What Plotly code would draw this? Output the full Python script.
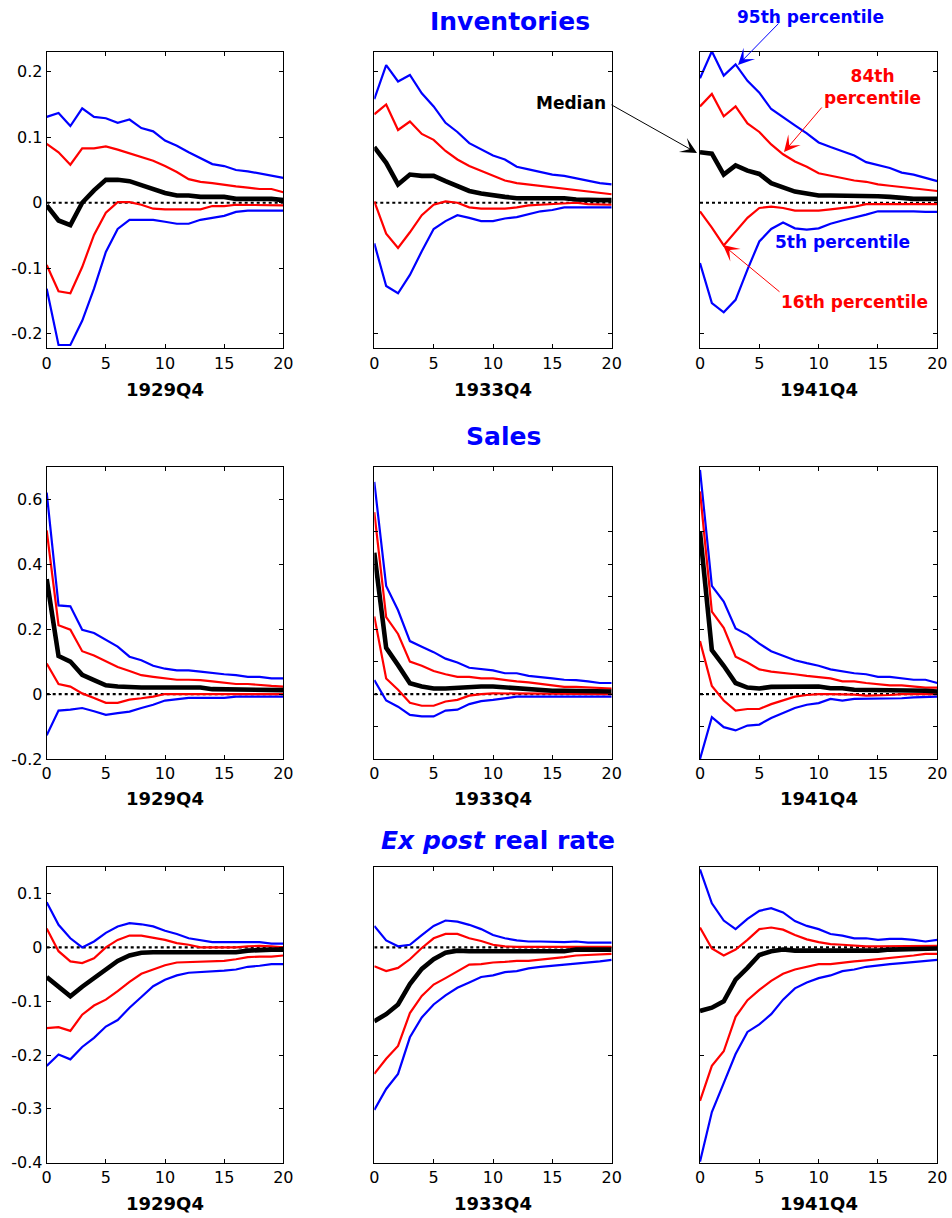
import plotly.graph_objects as go

W, H = 952, 1218

horizon = list(range(21))
zero_line = [0.0] * 21

episodes = ["1929Q4", "1933Q4", "1941Q4"]

# ---------------- Inventories ----------------
inv_1929_p95 = [0.131, 0.137, 0.117, 0.144, 0.131, 0.129, 0.122, 0.127, 0.114, 0.109, 0.095, 0.087, 0.077, 0.068, 0.059, 0.056, 0.050, 0.048, 0.045, 0.041, 0.038]
inv_1929_p84 = [0.090, 0.077, 0.058, 0.083, 0.083, 0.086, 0.081, 0.075, 0.070, 0.064, 0.056, 0.047, 0.036, 0.032, 0.030, 0.027, 0.025, 0.023, 0.021, 0.021, 0.016]
inv_1929_med = [-0.004, -0.027, -0.034, 0.000, 0.019, 0.035, 0.035, 0.033, 0.027, 0.021, 0.015, 0.011, 0.011, 0.009, 0.009, 0.009, 0.006, 0.006, 0.006, 0.006, 0.004]
inv_1929_p16 = [-0.095, -0.135, -0.138, -0.098, -0.049, -0.015, 0.001, 0.001, -0.003, -0.009, -0.010, -0.010, -0.010, -0.010, -0.005, -0.005, -0.003, -0.003, -0.003, -0.003, -0.004]
inv_1929_p05 = [-0.131, -0.217, -0.217, -0.180, -0.131, -0.075, -0.040, -0.026, -0.026, -0.026, -0.029, -0.032, -0.032, -0.026, -0.023, -0.020, -0.014, -0.012, -0.012, -0.012, -0.012]

inv_1933_p95 = [0.158, 0.210, 0.185, 0.195, 0.167, 0.147, 0.122, 0.108, 0.091, 0.081, 0.072, 0.066, 0.055, 0.051, 0.047, 0.043, 0.041, 0.037, 0.033, 0.030, 0.028]
inv_1933_p84 = [0.135, 0.150, 0.111, 0.124, 0.105, 0.096, 0.079, 0.066, 0.056, 0.049, 0.041, 0.034, 0.030, 0.028, 0.026, 0.023, 0.021, 0.019, 0.017, 0.015, 0.013]
inv_1933_med = [0.085, 0.061, 0.028, 0.043, 0.041, 0.041, 0.033, 0.026, 0.018, 0.014, 0.011, 0.009, 0.007, 0.007, 0.007, 0.007, 0.007, 0.005, 0.004, 0.004, 0.004]
inv_1933_p16 = [0.002, -0.047, -0.069, -0.045, -0.019, -0.003, 0.002, 0.000, -0.007, -0.009, -0.009, -0.009, -0.007, -0.004, -0.003, -0.002, -0.002, 0.000, -0.002, -0.002, -0.003]
inv_1933_p05 = [-0.062, -0.127, -0.138, -0.110, -0.074, -0.040, -0.028, -0.019, -0.023, -0.028, -0.028, -0.024, -0.022, -0.017, -0.013, -0.011, -0.007, -0.007, -0.007, -0.007, -0.007]

inv_1941_p95 = [0.190, 0.231, 0.194, 0.211, 0.186, 0.168, 0.143, 0.130, 0.118, 0.106, 0.092, 0.085, 0.079, 0.072, 0.062, 0.057, 0.053, 0.046, 0.043, 0.038, 0.033]
inv_1941_p84 = [0.147, 0.166, 0.132, 0.147, 0.121, 0.108, 0.089, 0.074, 0.063, 0.055, 0.045, 0.041, 0.038, 0.034, 0.032, 0.028, 0.026, 0.024, 0.022, 0.020, 0.018]
inv_1941_med = [0.077, 0.075, 0.043, 0.057, 0.049, 0.044, 0.030, 0.023, 0.017, 0.014, 0.011, 0.011, 0.011, 0.010, 0.010, 0.010, 0.009, 0.007, 0.006, 0.006, 0.006]
inv_1941_p16 = [-0.013, -0.038, -0.065, -0.044, -0.023, -0.008, -0.006, -0.008, -0.012, -0.012, -0.012, -0.010, -0.008, -0.006, -0.002, -0.002, -0.002, -0.002, -0.002, -0.002, -0.002]
inv_1941_p05 = [-0.092, -0.153, -0.167, -0.148, -0.102, -0.059, -0.040, -0.030, -0.039, -0.041, -0.039, -0.032, -0.027, -0.023, -0.018, -0.013, -0.013, -0.012, -0.013, -0.014, -0.014]

# ---------------- Sales ----------------
sal_1929_p95 = [0.620, 0.273, 0.270, 0.198, 0.188, 0.168, 0.146, 0.115, 0.104, 0.087, 0.078, 0.073, 0.073, 0.069, 0.064, 0.061, 0.058, 0.053, 0.053, 0.048, 0.048]
sal_1929_p84 = [0.504, 0.212, 0.198, 0.132, 0.119, 0.100, 0.083, 0.071, 0.058, 0.053, 0.049, 0.044, 0.044, 0.043, 0.039, 0.036, 0.031, 0.031, 0.027, 0.025, 0.023]
sal_1929_med = [0.354, 0.117, 0.100, 0.059, 0.043, 0.027, 0.023, 0.020, 0.020, 0.020, 0.020, 0.020, 0.020, 0.020, 0.015, 0.015, 0.015, 0.013, 0.012, 0.012, 0.012]
sal_1929_p16 = [0.094, 0.031, 0.023, 0.002, -0.012, -0.027, -0.027, -0.017, -0.013, -0.008, 0.000, 0.000, 0.000, 0.000, 0.000, 0.000, 0.000, 0.000, 0.000, 0.000, 0.000]
sal_1929_p05 = [-0.127, -0.051, -0.048, -0.043, -0.053, -0.064, -0.059, -0.054, -0.043, -0.033, -0.020, -0.015, -0.012, -0.012, -0.012, -0.012, -0.008, -0.008, -0.008, -0.008, -0.008]

sal_1933_p95 = [0.653, 0.333, 0.258, 0.163, 0.146, 0.129, 0.109, 0.097, 0.081, 0.076, 0.073, 0.064, 0.064, 0.056, 0.051, 0.048, 0.044, 0.043, 0.039, 0.034, 0.034]
sal_1933_p84 = [0.560, 0.237, 0.185, 0.100, 0.087, 0.071, 0.061, 0.053, 0.053, 0.048, 0.048, 0.043, 0.039, 0.036, 0.031, 0.025, 0.022, 0.022, 0.020, 0.017, 0.017]
sal_1933_med = [0.435, 0.142, 0.089, 0.033, 0.023, 0.017, 0.017, 0.020, 0.023, 0.023, 0.023, 0.020, 0.018, 0.013, 0.012, 0.010, 0.010, 0.010, 0.010, 0.008, 0.008]
sal_1933_p16 = [0.239, 0.048, 0.013, -0.027, -0.036, -0.036, -0.023, -0.018, -0.005, 0.000, 0.002, 0.002, 0.000, 0.000, 0.000, 0.000, 0.000, 0.000, 0.000, 0.000, 0.000]
sal_1933_p05 = [0.043, -0.020, -0.039, -0.064, -0.069, -0.069, -0.051, -0.048, -0.031, -0.022, -0.018, -0.013, -0.008, -0.008, -0.008, -0.008, -0.008, -0.008, -0.008, -0.008, -0.008]

sal_1941_p95 = [0.690, 0.333, 0.285, 0.202, 0.183, 0.155, 0.132, 0.117, 0.104, 0.095, 0.087, 0.076, 0.069, 0.064, 0.061, 0.053, 0.053, 0.049, 0.044, 0.044, 0.034]
sal_1941_p84 = [0.624, 0.254, 0.204, 0.115, 0.097, 0.076, 0.069, 0.066, 0.061, 0.056, 0.051, 0.048, 0.039, 0.039, 0.034, 0.031, 0.027, 0.027, 0.023, 0.020, 0.020]
sal_1941_med = [0.499, 0.135, 0.087, 0.034, 0.020, 0.017, 0.022, 0.022, 0.025, 0.025, 0.023, 0.018, 0.018, 0.013, 0.013, 0.010, 0.010, 0.012, 0.012, 0.010, 0.008]
sal_1941_p16 = [0.163, 0.025, -0.020, -0.051, -0.046, -0.046, -0.031, -0.020, -0.008, -0.003, 0.000, 0.000, 0.000, -0.002, -0.005, -0.005, -0.003, 0.000, 0.000, 0.000, 0.000]
sal_1941_p05 = [-0.200, -0.071, -0.102, -0.112, -0.097, -0.094, -0.074, -0.058, -0.043, -0.033, -0.028, -0.015, -0.020, -0.015, -0.015, -0.015, -0.015, -0.013, -0.010, -0.010, -0.008]

# ---------------- Ex post real rate ----------------
rr_1929_p95 = [0.084, 0.042, 0.017, 0.000, 0.011, 0.027, 0.039, 0.045, 0.043, 0.039, 0.031, 0.025, 0.017, 0.014, 0.010, 0.010, 0.010, 0.010, 0.010, 0.007, 0.007]
rr_1929_p84 = [0.035, -0.007, -0.026, -0.029, -0.020, 0.000, 0.014, 0.022, 0.022, 0.018, 0.014, 0.008, 0.005, 0.000, 0.000, 0.000, 0.000, 0.002, 0.003, 0.002, 0.000]
rr_1929_med = [-0.055, -0.072, -0.091, -0.073, -0.057, -0.040, -0.025, -0.015, -0.010, -0.009, -0.009, -0.010, -0.010, -0.010, -0.010, -0.010, -0.009, -0.006, -0.004, -0.004, -0.004]
rr_1929_p16 = [-0.150, -0.148, -0.155, -0.125, -0.108, -0.097, -0.081, -0.064, -0.049, -0.041, -0.033, -0.028, -0.027, -0.027, -0.025, -0.025, -0.022, -0.018, -0.017, -0.017, -0.015]
rr_1929_p05 = [-0.220, -0.199, -0.208, -0.185, -0.168, -0.147, -0.135, -0.112, -0.092, -0.072, -0.060, -0.052, -0.047, -0.046, -0.044, -0.043, -0.041, -0.036, -0.034, -0.031, -0.031]

rr_1933_p95 = [0.040, 0.013, 0.002, 0.005, 0.023, 0.040, 0.050, 0.048, 0.042, 0.034, 0.023, 0.017, 0.013, 0.011, 0.011, 0.010, 0.010, 0.011, 0.009, 0.009, 0.009]
rr_1933_p84 = [-0.035, -0.044, -0.038, -0.022, -0.001, 0.017, 0.025, 0.025, 0.017, 0.012, 0.005, 0.002, 0.001, 0.001, 0.001, 0.001, 0.001, 0.001, 0.001, 0.001, 0.001]
rr_1933_med = [-0.137, -0.124, -0.106, -0.068, -0.040, -0.022, -0.010, -0.006, -0.007, -0.007, -0.009, -0.009, -0.009, -0.009, -0.009, -0.007, -0.007, -0.004, -0.004, -0.004, -0.004]
rr_1933_p16 = [-0.235, -0.207, -0.183, -0.122, -0.090, -0.069, -0.057, -0.044, -0.032, -0.031, -0.028, -0.027, -0.025, -0.025, -0.023, -0.020, -0.018, -0.015, -0.014, -0.012, -0.012]
rr_1933_p05 = [-0.302, -0.263, -0.235, -0.167, -0.130, -0.106, -0.089, -0.075, -0.065, -0.055, -0.052, -0.046, -0.044, -0.039, -0.036, -0.034, -0.032, -0.031, -0.028, -0.026, -0.023]

rr_1941_p95 = [0.145, 0.082, 0.050, 0.034, 0.053, 0.068, 0.073, 0.065, 0.049, 0.040, 0.034, 0.025, 0.022, 0.017, 0.017, 0.014, 0.016, 0.016, 0.014, 0.011, 0.014]
rr_1941_p84 = [0.037, -0.002, -0.015, -0.004, 0.014, 0.034, 0.037, 0.033, 0.023, 0.015, 0.010, 0.006, 0.005, 0.003, 0.002, 0.002, 0.002, 0.002, 0.002, 0.002, 0.003]
rr_1941_med = [-0.118, -0.112, -0.100, -0.060, -0.038, -0.014, -0.007, -0.004, -0.006, -0.006, -0.007, -0.007, -0.007, -0.007, -0.006, -0.006, -0.004, -0.003, -0.002, -0.002, -0.002]
rr_1941_p16 = [-0.285, -0.220, -0.193, -0.129, -0.098, -0.079, -0.062, -0.049, -0.041, -0.036, -0.031, -0.031, -0.028, -0.026, -0.024, -0.022, -0.020, -0.017, -0.015, -0.012, -0.012]
rr_1941_p05 = [-0.398, -0.306, -0.252, -0.198, -0.157, -0.143, -0.124, -0.097, -0.076, -0.065, -0.057, -0.052, -0.044, -0.041, -0.036, -0.033, -0.031, -0.029, -0.027, -0.026, -0.023]

panel_data = [
    [(inv_1929_p95, inv_1929_p84, inv_1929_med, inv_1929_p16, inv_1929_p05),
     (inv_1933_p95, inv_1933_p84, inv_1933_med, inv_1933_p16, inv_1933_p05),
     (inv_1941_p95, inv_1941_p84, inv_1941_med, inv_1941_p16, inv_1941_p05)],
    [(sal_1929_p95, sal_1929_p84, sal_1929_med, sal_1929_p16, sal_1929_p05),
     (sal_1933_p95, sal_1933_p84, sal_1933_med, sal_1933_p16, sal_1933_p05),
     (sal_1941_p95, sal_1941_p84, sal_1941_med, sal_1941_p16, sal_1941_p05)],
    [(rr_1929_p95, rr_1929_p84, rr_1929_med, rr_1929_p16, rr_1929_p05),
     (rr_1933_p95, rr_1933_p84, rr_1933_med, rr_1933_p16, rr_1933_p05),
     (rr_1941_p95, rr_1941_p84, rr_1941_med, rr_1941_p16, rr_1941_p05)],
]

# axis settings per row
y_ranges = [[-0.222, 0.23], [-0.2, 0.7], [-0.4, 0.15]]
y_ticks_first = [[-0.2, -0.1, 0, 0.1, 0.2],
                 [-0.2, 0, 0.2, 0.4, 0.6],
                 [-0.4, -0.3, -0.2, -0.1, 0, 0.1]]
y_ticktext_first = [["-0.2", "-0.1", "0", "0.1", "0.2"],
                    ["-0.2", "0", "0.2", "0.4", "0.6"],
                    ["-0.4", "-0.3", "-0.2", "-0.1", "0", "0.1"]]
y_ticks_other = [[-0.2, 0.2],
                 [-0.1, 0, 0.1, 0.2, 0.3, 0.4, 0.5],
                 [-0.2]]
x_ticks = [0, 5, 10, 15, 20]

# pixel layout of panel frames (page coordinates)
col_px = [(46.7, 283.3), (374.3, 611.7), (700.0, 937.3)]
row_px = [(52.0, 348.3), (466.7, 759.0), (866.7, 1162.7)]
xlabel_y = [390, 798, 1203]
title_pos = [(510, 22, "Inventories"), (503, 437, "Sales"),
             (498, 840, "<i>Ex post</i> real rate")]

BLUE = "#0000FF"
RED = "#FF0000"
FONT = "DejaVu Sans"

def px(x):
    return x / W

def py(y):
    return 1 - y / H

fig = go.Figure()
layout_axes = {}
annotations = []

for r in range(3):
    for c in range(3):
        k = r * 3 + c + 1
        xa = "x" if k == 1 else f"x{k}"
        ya = "y" if k == 1 else f"y{k}"
        p95, p84, med, p16, p05 = panel_data[r][c]
        fig.add_trace(go.Scatter(x=horizon, y=zero_line, mode="lines",
                                 line=dict(color="black", width=2.2, dash="dot"),
                                 xaxis=xa, yaxis=ya, showlegend=False, hoverinfo="skip"))
        for series, colr, wd in [(p95, BLUE, 2.2), (p05, BLUE, 2.2),
                                 (p84, RED, 2.2), (p16, RED, 2.2),
                                 (med, "black", 4.6)]:
            fig.add_trace(go.Scatter(x=horizon, y=series, mode="lines",
                                     line=dict(color=colr, width=wd),
                                     xaxis=xa, yaxis=ya, showlegend=False))
        x0, x1 = col_px[c]
        y0, y1 = row_px[r]
        common = dict(showline=True, linecolor="black", linewidth=1, mirror="ticks",
                      ticks="inside", ticklen=4, tickcolor="black", tickwidth=1,
                      showgrid=False, zeroline=False, automargin=False,
                      ticklabeloverflow="allow",
                      tickfont=dict(family=FONT, size=16, color="black"))
        xkey = "xaxis" if k == 1 else f"xaxis{k}"
        ykey = "yaxis" if k == 1 else f"yaxis{k}"
        layout_axes[xkey] = dict(domain=[px(x0), px(x1)], anchor=ya, range=[0, 20],
                                 tickvals=x_ticks, ticktext=[str(v) for v in x_ticks],
                                 **common)
        if c == 0:
            yopts = dict(tickvals=y_ticks_first[r], ticktext=y_ticktext_first[r],
                         showticklabels=True)
        else:
            yopts = dict(tickvals=y_ticks_other[r], showticklabels=False)
        layout_axes[ykey] = dict(domain=[py(y1), py(y0)], anchor=xa,
                                 range=y_ranges[r], **yopts, **common)
        annotations.append(dict(x=px((x0 + x1) / 2), y=py(xlabel_y[r]), xref="paper",
                                yref="paper", text=f"<b>{episodes[c]}</b>", showarrow=False,
                                xanchor="center", yanchor="middle",
                                font=dict(family=FONT, size=18, color="black")))

for (tx, ty, tt) in title_pos:
    annotations.append(dict(x=px(tx), y=py(ty), xref="paper", yref="paper",
                            text=f"<b>{tt}</b>", showarrow=False, xanchor="center",
                            yanchor="middle", font=dict(family=FONT, size=25, color=BLUE)))

# callout labels
labels = [
    (571, 103, "Median", "black"),
    (810, 17, "95th percentile", BLUE),
    (872, 87, "84th<br>percentile", RED),
    (842, 242, "5th percentile", BLUE),
    (854, 302, "16th percentile", RED),
]
for (lx, ly, lt, lc) in labels:
    annotations.append(dict(x=px(lx), y=py(ly), xref="paper", yref="paper",
                            text=f"<b>{lt}</b>", showarrow=False, xanchor="center",
                            yanchor="middle",
                            font=dict(family=FONT, size=17, color=lc)))

# arrows: (tail_x, tail_y, tip_x, tip_y, color)
arrows = [
    (610, 104, 697, 153, "black"),
    (780, 22, 738, 65, BLUE),
    (823, 106, 784, 152, RED),
    (781, 293, 723, 245, RED),
]
for (tx0, ty0, tx1, ty1, ac) in arrows:
    annotations.append(dict(x=px(tx1), y=py(ty1), xref="paper", yref="paper",
                            ax=tx0 - tx1, ay=ty0 - ty1, axref="pixel", ayref="pixel",
                            text="", showarrow=True, arrowhead=3, arrowsize=2.7,
                            arrowwidth=1, arrowcolor=ac, standoff=0, startstandoff=0))

fig.update_layout(width=W, height=H, margin=dict(l=0, r=0, t=0, b=0),
                  paper_bgcolor="white", plot_bgcolor="white",
                  annotations=annotations, **layout_axes)

# remove the browser's default body margin so the figure fills the page exactly
fig.write_html("out.html",
               config={"displayModeBar": False},
               post_script="document.body.style.margin='0';document.body.style.overflow='hidden';")
